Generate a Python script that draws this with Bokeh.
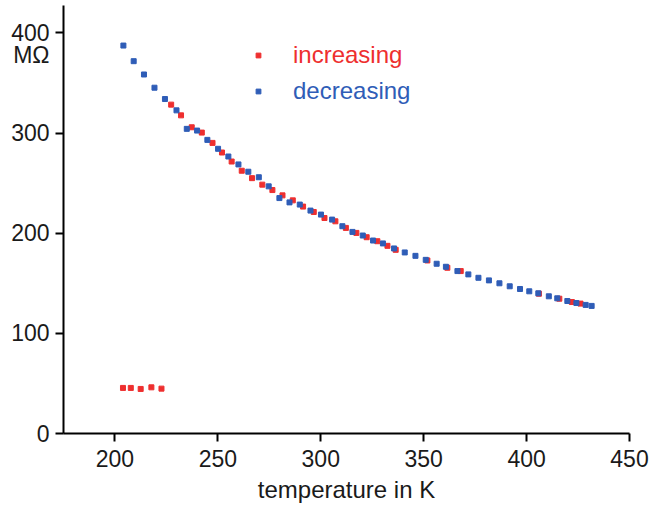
from bokeh.plotting import figure
from bokeh.models import (Range1d, FixedTicker, LinearAxis,
                          Legend, LegendItem, CustomJSTickFormatter)
from bokeh.embed import file_html
from bokeh.resources import INLINE

# increasing temperature sweep (K, MOhm)
inc_temp = [203.9, 207.7, 212.5, 217.7, 222.6,
            227.3, 232.1, 237.3, 242.2, 247.4, 252.0, 256.7, 261.6, 266.6, 271.6,
            276.5, 281.4, 286.4, 291.4, 296.6, 301.8, 307.1, 312.2, 317.3, 322.3,
            327.5, 332.4, 336.4, 351.8, 361.5, 368.0, 406.0, 415.9, 422.0, 426.2]
inc_res = [45.5, 45.5, 44.5, 46.1, 44.8,
           328.4, 317.7, 305.8, 300.5, 290.2, 280.6, 271.6, 262.4, 255.0, 248.5,
           243.1, 237.8, 232.8, 226.6, 221.2, 215.2, 211.9, 205.3, 200.3, 196.0,
           192.0, 187.4, 183.4, 172.8, 165.5, 162.2, 139.6, 134.6, 131.3, 129.7]

# decreasing temperature sweep (K, MOhm)
dec_temp = [204.1, 209.1, 214.1, 219.2, 224.3, 229.9, 234.9, 239.9, 244.9, 250.1,
            255.1, 260.0, 264.8, 269.9, 274.7, 279.9, 284.8, 289.8, 295.0, 300.1,
            305.5, 310.5, 315.4, 320.4, 325.4, 330.2, 335.6, 340.8, 346.0, 351.0,
            356.3, 360.8, 366.4, 371.7, 376.6, 381.7, 386.8, 391.8, 396.8, 401.3,
            405.7, 410.8, 414.9, 419.8, 424.2, 428.7, 431.6]
dec_res = [387.4, 371.8, 358.5, 345.3, 334.0, 322.7, 304.2, 302.5, 293.2, 284.3,
           276.6, 268.7, 261.4, 255.9, 246.8, 235.1, 230.8, 228.6, 222.6, 218.6,
           213.6, 207.0, 201.3, 197.7, 192.7, 189.8, 184.8, 180.8, 177.4, 173.4,
           169.5, 166.5, 162.2, 158.9, 155.5, 152.9, 150.0, 147.0, 144.3, 142.0,
           140.0, 137.0, 135.0, 132.3, 130.3, 128.4, 127.4]

y_ticks = [0, 100, 200, 300, 400]
unit_text = "MΩ"
unit_pos = 378

RED = "#ee2f2f"
BLUE = "#2f5db7"
INK = "#1a1a1a"
FONT = "Liberation Sans"

p = figure(width=650, height=513, output_backend="svg", toolbar_location=None,
           x_range=Range1d(175, 450), y_range=Range1d(0, 427.4),
           min_border_left=63, min_border_right=21, min_border_top=5,
           min_border_bottom=80)
p.outline_line_color = None
p.grid.visible = False

TICK_STYLE = dict(axis_line_width=2, axis_line_color="black",
                  major_tick_line_width=2, major_tick_line_color="black",
                  minor_tick_line_color=None,
                  major_tick_out=8, major_tick_in=0,
                  minor_tick_out=0, minor_tick_in=0)

# both axes keep the figure's own tickers untouched (50 K and 100 MOhm steps)
for ax in (p.xaxis[0], p.yaxis[0]):
    for k, v in TICK_STYLE.items():
        setattr(ax, k, v)

p.xaxis.major_label_text_font = FONT
p.xaxis.major_label_text_font_size = "23px"
p.xaxis.major_label_text_color = INK
p.xaxis.major_label_standoff = 8
p.xaxis.axis_label = "temperature in K"
p.xaxis.axis_label_text_font = FONT
p.xaxis.axis_label_text_font_size = "24px"
p.xaxis.axis_label_text_font_style = "normal"
p.xaxis.axis_label_text_color = INK
p.xaxis.axis_label_standoff = 6

# inner y axis: line and ticks only
p.yaxis[0].formatter = CustomJSTickFormatter(code="return ''")
p.yaxis[0].major_label_standoff = 0

# outer y axis: tick labels and the unit
lab_axis = LinearAxis(ticker=FixedTicker(ticks=y_ticks + [unit_pos]),
                      major_label_overrides={unit_pos: unit_text},
                      axis_line_color=None, major_tick_line_color=None,
                      minor_tick_line_color=None, major_tick_in=0,
                      major_tick_out=0, minor_tick_in=0, minor_tick_out=0,
                      major_label_standoff=6, major_label_text_font=FONT,
                      major_label_text_font_size="23px",
                      major_label_text_color=INK)
p.add_layout(lab_axis, "left")

r_inc = p.scatter(inc_temp, inc_res, marker="square", size=5,
                  fill_color=RED, line_color=RED)
r_dec = p.scatter(dec_temp, dec_res, marker="square", size=5,
                  fill_color=BLUE, line_color=BLUE)

for lab, rend, col, loc in (("increasing", r_inc, RED, (189, 364)),
                            ("decreasing", r_dec, BLUE, (189, 328))):
    leg = Legend(items=[LegendItem(label=lab, renderers=[rend])], location=loc,
                 border_line_color=None, background_fill_alpha=0,
                 padding=0, margin=0, glyph_width=12, glyph_height=12,
                 label_standoff=29, label_text_font=FONT,
                 label_text_font_size="24px", label_text_color=col)
    p.add_layout(leg)

open("out.html", "w").write(file_html(p, INLINE))
